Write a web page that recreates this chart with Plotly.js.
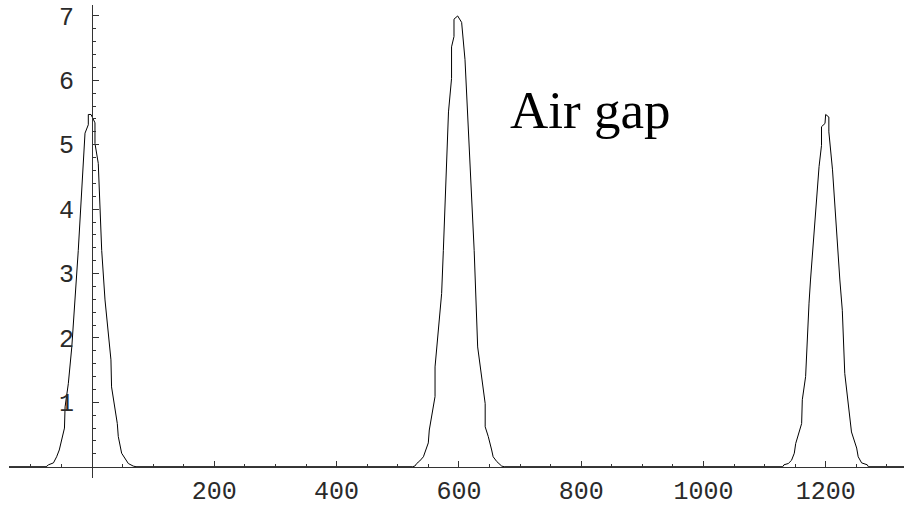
<!DOCTYPE html>
<html>
<head>
<meta charset="utf-8">
<script src="https://cdn.plot.ly/plotly-3.0.1.min.js"></script>
<style>html,body{margin:0;padding:0;background:#fff;}#chart{width:904px;height:509px;}</style>
</head>
<body>
<div id="chart"></div>
<script>
// Peak near 0
var peak1X = [-135.7, -75, -71, -63, -57.8, -53.5, -45, -44, -38.7, -33, -22.4, -11.4, -6, -6, -1.6, 4.9, 4.9, 10.3, 15.9, 21.3, 31, 32, 41.4, 43, 48.5, 54, 59.4, 67.5, 72];
var peak1Y = [0, 0, 0.03, 0.06, 0.155, 0.26, 0.6, 0.93, 1.29, 1.86, 3.36, 5.18, 5.31, 5.47, 5.47, 5.34, 5.02, 4.71, 3.36, 2.59, 1.66, 1.24, 0.67, 0.47, 0.21, 0.13, 0.05, 0.01, 0];
// Peak near 600
var peak2X = [524, 528, 531, 536, 542, 544.5, 550, 551.6, 561, 561, 571.8, 574.6, 583, 588, 588, 592, 592, 598, 604.5, 610, 625, 630.7, 643, 643, 648, 653.6, 656, 662, 670, 674];
var peak2Y = [0, 0.01, 0.05, 0.09, 0.155, 0.23, 0.37, 0.57, 1.09, 1.55, 2.69, 3.36, 5.51, 6.03, 6.52, 6.68, 6.95, 7.0, 6.9, 6.32, 3.36, 1.86, 0.98, 0.62, 0.47, 0.26, 0.155, 0.08, 0.01, 0];
// Peak near 1200
var peak3X = [1125, 1129.5, 1131.6, 1138.7, 1144, 1148.5, 1150.8, 1160.5, 1161.6, 1167, 1172.6, 1175, 1189, 1193, 1193, 1198.7, 1199.8, 1205, 1205, 1211, 1223, 1227, 1231, 1242, 1250.5, 1253, 1258.6, 1267.8, 1269.6, 1327.9];
var peak3Y = [0, 0, 0.03, 0.05, 0.1, 0.21, 0.36, 0.67, 1.04, 1.40, 2.54, 2.9, 4.66, 4.99, 5.28, 5.33, 5.47, 5.43, 5.2, 4.61, 2.9, 2.43, 1.45, 0.54, 0.29, 0.155, 0.06, 0.03, 0, 0];

var xTickVals = [200, 400, 600, 800, 1000, 1200];
var xMinorVals = [-100, -50, 50, 100, 150, 250, 300, 350, 450, 500, 550, 650, 700, 750, 850, 900, 950, 1050, 1100, 1150, 1250, 1300];
var yTickVals = [1, 2, 3, 4, 5, 6, 7];
var yMinorVals = [];
for (var i = 1; i <= 35; i++) { if (i % 5 !== 0) yMinorVals.push(+(i * 0.2).toFixed(1)); }
var annText = 'Air gap';

var xRange = [-135.7, 1327.9];
var yRange = [-0.175, 7.17];

var trace = {
  x: peak1X.concat(peak2X, peak3X),
  y: peak1Y.concat(peak2Y, peak3Y),
  type: 'scatter', mode: 'lines',
  line: {color: '#000', width: 1},
  hoverinfo: 'skip', showlegend: false
};

var tickFont = {family: 'Liberation Mono, monospace', size: 25, color: '#2a2a2a'};

var layout = {
  width: 904, height: 509,
  margin: {l: 9, r: 0, t: 5, b: 31, pad: 0},
  paper_bgcolor: '#fff', plot_bgcolor: '#fff',
  showlegend: false,
  xaxis: {
    range: xRange, anchor: 'free', position: (0 - yRange[0]) / (yRange[1] - yRange[0]),
    showgrid: false, zeroline: false, showline: true, linecolor: '#333', linewidth: 1,
    tickmode: 'array', tickvals: xTickVals, ticktext: xTickVals.map(String),
    ticks: 'inside', ticklen: 6, tickwidth: 1, tickcolor: '#333',
    minor: {tickmode: 'array', tickvals: xMinorVals, ticks: 'inside', ticklen: 3, tickwidth: 1, tickcolor: '#333', showgrid: false},
    tickfont: tickFont, ticklabelstandoff: 1
  },
  yaxis: {
    range: yRange, anchor: 'free', position: (0 - xRange[0]) / (xRange[1] - xRange[0]),
    showgrid: false, zeroline: false, showline: true, linecolor: '#333', linewidth: 1,
    tickmode: 'array', tickvals: yTickVals, ticktext: yTickVals.map(String),
    ticks: 'inside', ticklen: 6, tickwidth: 1, tickcolor: '#333',
    minor: {tickmode: 'array', tickvals: yMinorVals, ticks: 'inside', ticklen: 3, tickwidth: 1, tickcolor: '#333', showgrid: false},
    tickfont: tickFont, ticklabelstandoff: 13
  },
  annotations: [{
    text: annText, x: 814, y: 5.54, xref: 'x', yref: 'y',
    xanchor: 'center', yanchor: 'middle', showarrow: false,
    font: {family: 'Liberation Serif, Times New Roman, serif', size: 53, color: '#000'}
  }]
};

Plotly.newPlot('chart', [trace], layout, {displayModeBar: false, staticPlot: true});
</script>
</body>
</html>
